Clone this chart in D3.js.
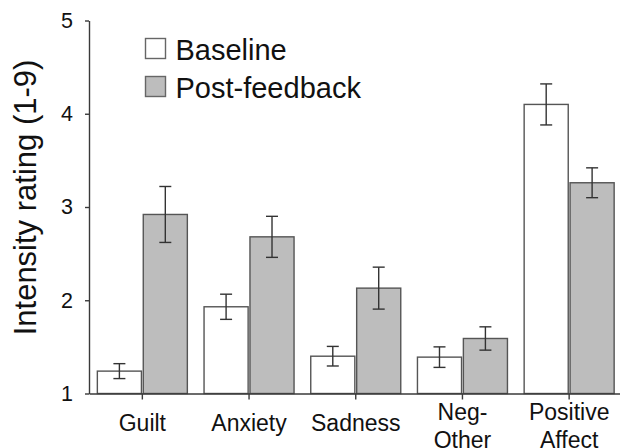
<!DOCTYPE html>
<html>
<head>
<meta charset="utf-8">
<script src="https://cdn.jsdelivr.net/npm/d3@7"></script>
<style>
  body { margin: 0; background: #fff; }
  svg { display: block; font-family: "Liberation Sans", Arial, sans-serif; }
</style>
</head>
<body>
<svg width="620" height="448"></svg>
<script>
// Chart data
const categories = ["Guilt", "Anxiety", "Sadness", "Neg-Other", "Positive Affect"];
const categoryLines = [["Guilt"], ["Anxiety"], ["Sadness"], ["Neg-", "Other"], ["Positive", "Affect"]];
const seriesNames = ["Baseline", "Post-feedback"];
const baseline = [1.24, 1.93, 1.40, 1.39, 4.10];
const baselineErr = [0.08, 0.135, 0.105, 0.11, 0.22];
const postFeedback = [2.92, 2.68, 2.13, 1.59, 3.26];
const postFeedbackErr = [0.30, 0.22, 0.225, 0.125, 0.16];
const yTicks = [1, 2, 3, 4, 5];

const svg = d3.select("svg");
const axisColor = "#3a3a3a";
const fills = ["#ffffff", "#bdbdbd"];

// Scales
const x = d3.scaleBand().domain(categories).range([89, 622.5]).padding(0);
const step = x.bandwidth();
const x1 = d3.scaleBand()
  .domain(seriesNames)
  .range([step / 2 - 45, step / 2 + 45])
  .paddingInner(0.04);
const y = d3.scaleLinear().domain([1, 5]).range([393.5, 20.5]);

// Flatten the rows for drawing
const rows = [];
categories.forEach((c, i) => {
  rows.push({ cat: c, series: seriesNames[0], value: baseline[i], err: baselineErr[i], k: 0 });
  rows.push({ cat: c, series: seriesNames[1], value: postFeedback[i], err: postFeedbackErr[i], k: 1 });
});

// Bars
svg.append("g")
  .selectAll("rect")
  .data(rows)
  .join("rect")
  .attr("x", d => x(d.cat) + x1(d.series))
  .attr("y", d => y(d.value))
  .attr("width", x1.bandwidth())
  .attr("height", d => y(1) - y(d.value))
  .attr("fill", d => fills[d.k])
  .attr("stroke", "#555")
  .attr("stroke-width", 1.4);

// Error bars
const capW = 12;
const eb = svg.append("g")
  .attr("stroke", "#333")
  .attr("stroke-width", 1.4)
  .selectAll("g")
  .data(rows)
  .join("g")
  .attr("transform", d => `translate(${x(d.cat) + x1(d.series) + x1.bandwidth() / 2},0)`);
eb.append("line")
  .attr("y1", d => y(d.value + d.err))
  .attr("y2", d => y(d.value - d.err));
eb.append("line")
  .attr("x1", -capW / 2).attr("x2", capW / 2)
  .attr("y1", d => y(d.value + d.err)).attr("y2", d => y(d.value + d.err));
eb.append("line")
  .attr("x1", -capW / 2).attr("x2", capW / 2)
  .attr("y1", d => y(d.value - d.err)).attr("y2", d => y(d.value - d.err));

// Y axis
const yAxis = svg.append("g")
  .attr("transform", "translate(89,0)")
  .call(d3.axisLeft(y).tickValues(yTicks).tickFormat(d3.format("d")).tickSize(4).tickPadding(12).tickSizeOuter(0));
yAxis.select(".domain").attr("stroke", axisColor).attr("stroke-width", 1.4);
yAxis.selectAll(".tick line").attr("stroke", axisColor).attr("stroke-width", 1.4);
yAxis.selectAll(".tick text").attr("font-size", 21.5).attr("fill", "#111").attr("font-family", null);

// X axis
const xAxis = svg.append("g")
  .attr("transform", `translate(0,${y(1)})`)
  .call(d3.axisBottom(x).tickSize(6).tickSizeOuter(0).tickFormat(""));
xAxis.select(".domain").attr("stroke", axisColor).attr("stroke-width", 1.4);
xAxis.selectAll(".tick line").attr("stroke", axisColor).attr("stroke-width", 1.4);

// Category labels (one or two lines)
const labels = svg.append("g")
  .selectAll("text")
  .data(categories)
  .join("text")
  .attr("text-anchor", "middle")
  .attr("font-size", 23)
  .attr("fill", "#111")
  .attr("transform", (d, i) => {
    const n = categoryLines[i].length;
    const top = n === 1 ? 431 : 419.5;
    return `translate(${x(d) + step / 2},${top})`;
  });
labels.selectAll("tspan")
  .data((d, i) => categoryLines[i])
  .join("tspan")
  .attr("x", 0)
  .attr("y", (d, j) => j * 28)
  .text(d => d);

// Y axis title
svg.append("text")
  .attr("transform", "translate(36,197.5) rotate(-90)")
  .attr("text-anchor", "middle")
  .attr("font-size", 31)
  .attr("fill", "#111")
  .text("Intensity rating (1-9)");

// Legend
const legend = svg.append("g")
  .selectAll("g")
  .data(seriesNames)
  .join("g")
  .attr("transform", (d, i) => `translate(145.5,${38.5 + i * 38})`);
legend.append("rect")
  .attr("width", 20)
  .attr("height", 20)
  .attr("fill", (d, i) => fills[i])
  .attr("stroke", "#666")
  .attr("stroke-width", 1.4);
legend.append("text")
  .attr("x", 30)
  .attr("y", 21)
  .attr("font-size", 29)
  .attr("fill", "#111")
  .text(d => d);
</script>
</body>
</html>
